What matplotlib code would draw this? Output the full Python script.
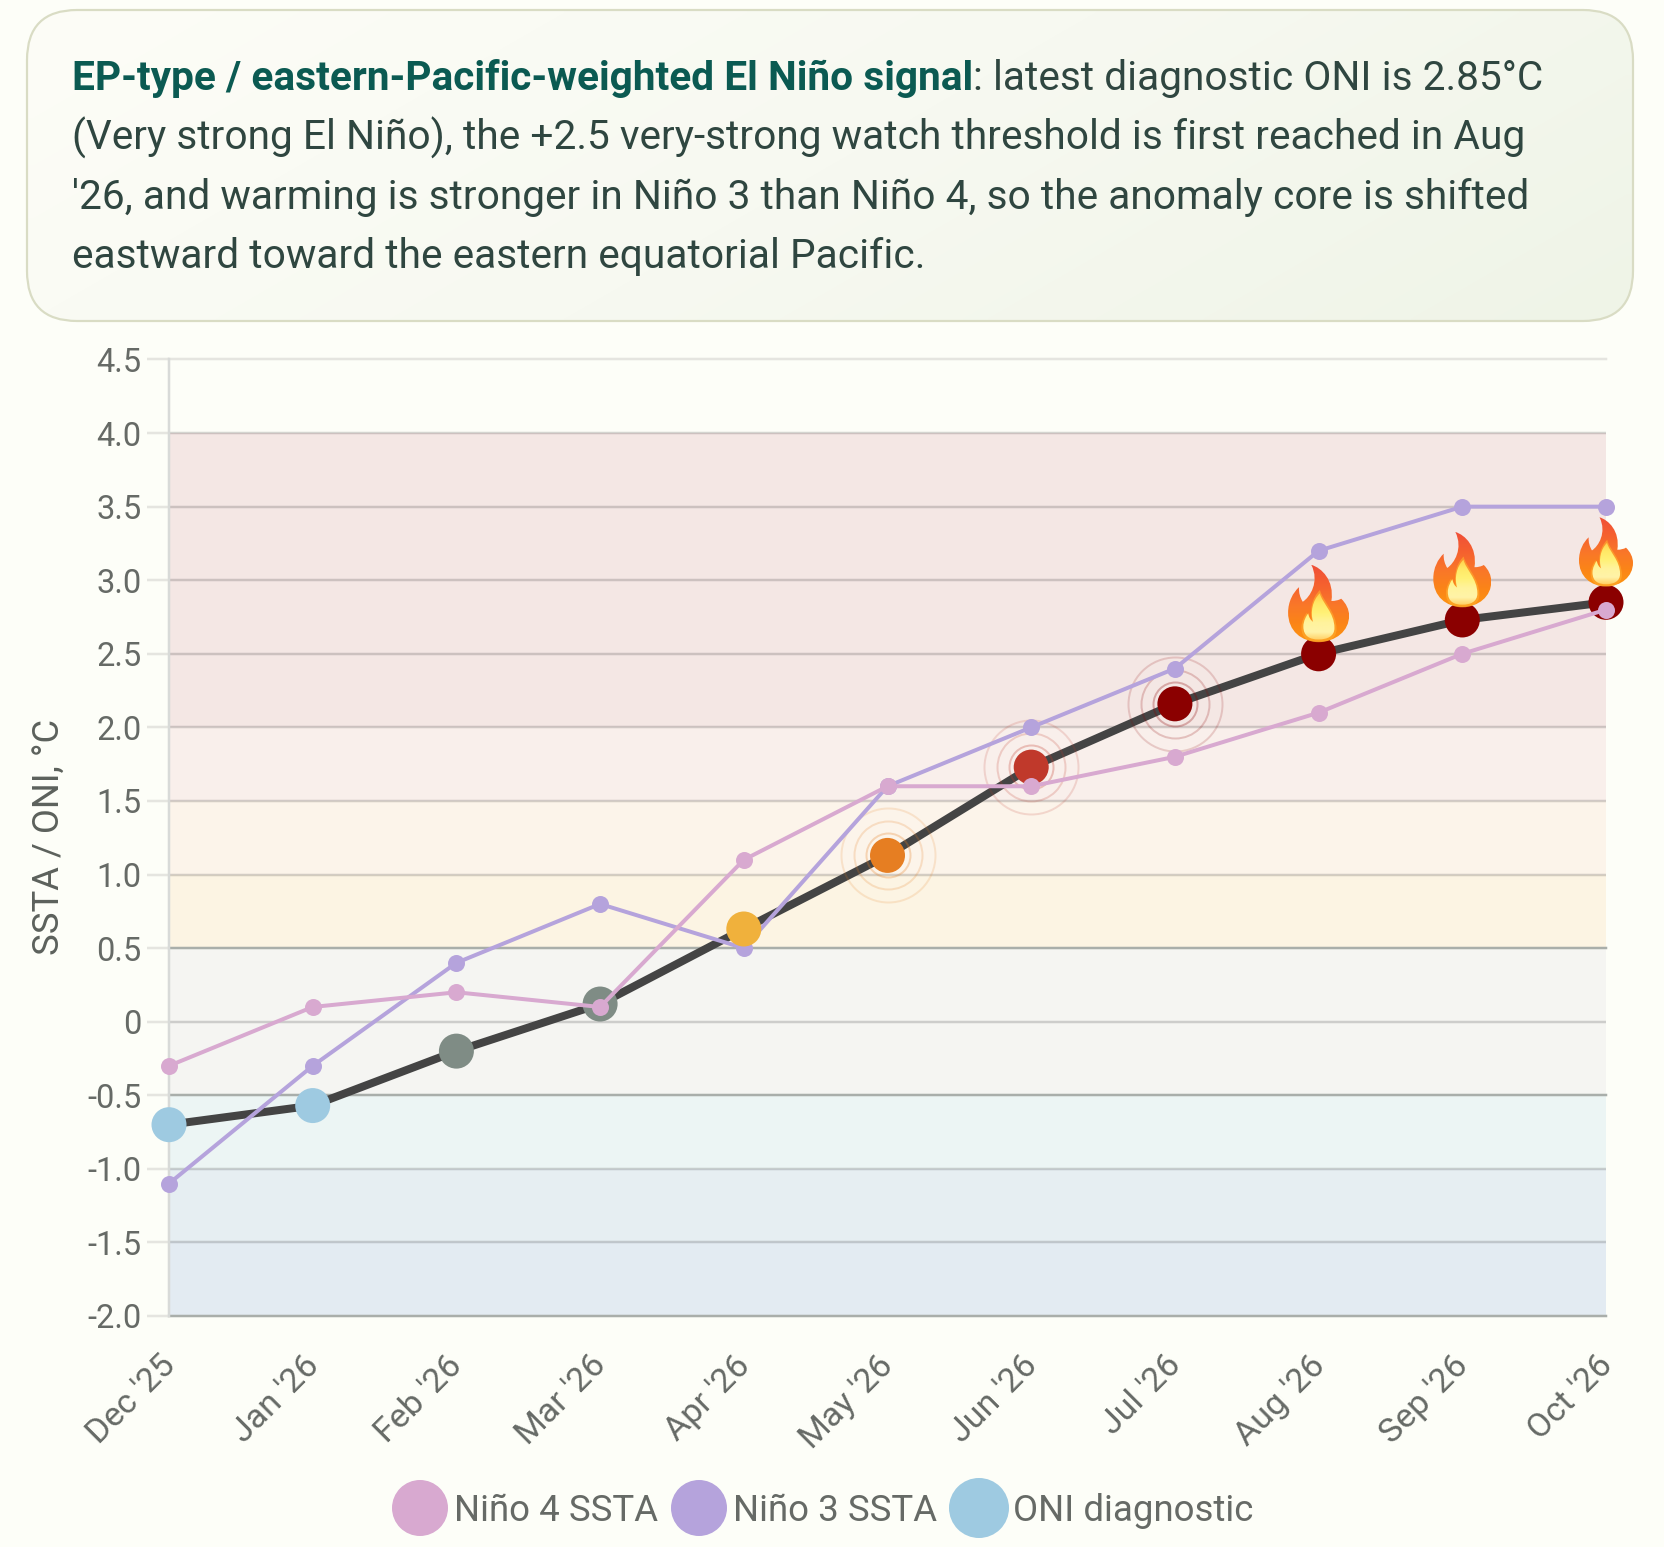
import matplotlib
matplotlib.use('Agg')
import matplotlib.pyplot as plt
import numpy as np
from matplotlib.colors import LinearSegmentedColormap
from matplotlib.patches import Circle, FancyBboxPatch, PathPatch
from matplotlib.path import Path
from matplotlib.transforms import ScaledTranslation

plt.rcParams['font.family'] = ['Roboto', 'DejaVu Sans']

W, H = 1664, 1547
BG = '#fdfef8'

months = ["Dec '25", "Jan '26", "Feb '26", "Mar '26", "Apr '26", "May '26",
          "Jun '26", "Jul '26", "Aug '26", "Sep '26", "Oct '26"]
nino4 = [-0.3, 0.1, 0.2, 0.1, 1.1, 1.6, 1.6, 1.8, 2.1, 2.5, 2.8]
nino3 = [-1.1, -0.3, 0.4, 0.8, 0.5, 1.6, 2.0, 2.4, 3.2, 3.5, 3.5]
oni = [-0.7, -0.57, -0.2, 0.12, 0.63, 1.13, 1.73, 2.16, 2.5, 2.73, 2.85]

y_ticks = [-2.0, -1.5, -1.0, -0.5, 0, 0.5, 1.0, 1.5, 2.0, 2.5, 3.0, 3.5, 4.0, 4.5]
y_labels = ['-2.0', '-1.5', '-1.0', '-0.5', '0', '0.5', '1.0', '1.5', '2.0',
            '2.5', '3.0', '3.5', '4.0', '4.5']

band_edges = [-2.0, -1.5, -1.0, -0.5, 0.5, 1.0, 1.5, 2.0, 4.0]
band_colors = ['#e3ebf2', '#e6eef2', '#ecf5f4', '#f5f5f2', '#fcf4e3', '#fcf4ea',
               '#f9efeb', '#f4e7e4']
heavy_lines = [-2.0, -0.5, 0.5]

ring_months = [5, 6, 7]
ring_radii = [22, 34, 47]
fire_months = [8, 9, 10]
fire_sizes = [(61, 77), (58, 75), (54, 69)]
fire_gaps = [12, 13, 16]

PINK = '#d8a9d0'
PURPLE = '#b5a3dc'
BLUE = '#9ecae1'


def oni_color(v):
    """Colour of an ONI dot by intensity class"""
    if v <= -0.5:
        return BLUE
    if v < 0.5:
        return '#7f8c85'
    if v < 1.0:
        return '#f0b13c'
    if v < 1.5:
        return '#e67e22'
    if v < 2.0:
        return '#c0392b'
    return '#8b0000'


def px(n):
    """Pixels to points at dpi 100"""
    return n * 0.72


def gradient_fill(ax, patch, extent, colors, horizontal=False):
    """Paint a vertical (or diagonal) gradient clipped to a patch"""
    cmap = LinearSegmentedColormap.from_list('g', colors)
    if horizontal:
        xx, yy = np.meshgrid(np.linspace(0, 1, 128), np.linspace(0, 1, 64))
        grad = (xx * 3 + yy) / 4
    else:
        grad = np.linspace(0, 1, 128)[:, None]
    im = ax.imshow(grad, cmap=cmap, extent=extent, aspect='auto', origin='upper',
                   interpolation='bilinear', zorder=patch.get_zorder())
    im.set_clip_path(patch)


def blob_path(cx, top, w, h, pts, grow=1.0):
    """Closed bezier outline from (x, y) points in unit flame coordinates"""
    verts = [(cx + p[0] * w * grow, top + (0.7 + (p[1] - 0.7) * grow) * h) for p in pts]
    codes = [Path.MOVETO] + [Path.CURVE4] * (len(pts) - 1)
    return Path(verts, codes)


OUTER = [(-0.12, 0.0),
         (0.05, 0.04), (0.26, 0.20), (0.21, 0.47),
         (0.27, 0.47), (0.33, 0.46), (0.37, 0.44),
         (0.45, 0.50), (0.50, 0.58), (0.50, 0.66),
         (0.50, 0.86), (0.28, 1.0), (0.0, 1.0),
         (-0.28, 1.0), (-0.50, 0.86), (-0.50, 0.62),
         (-0.50, 0.48), (-0.42, 0.36), (-0.32, 0.29),
         (-0.33, 0.36), (-0.30, 0.43), (-0.26, 0.48),
         (-0.14, 0.42), (0.02, 0.22), (-0.12, 0.0)]
INNER = [(0.02, 0.37),
         (0.06, 0.50), (0.26, 0.62), (0.26, 0.82),
         (0.26, 0.93), (0.14, 0.97), (0.0, 0.97),
         (-0.14, 0.97), (-0.25, 0.93), (-0.25, 0.80),
         (-0.25, 0.73), (-0.20, 0.66), (-0.17, 0.63),
         (-0.16, 0.68), (-0.13, 0.72), (-0.09, 0.74),
         (-0.14, 0.62), (-0.10, 0.46), (0.02, 0.37)]


def draw_flame(ax, cx, bottom, w, h):
    top = bottom - h
    outer = PathPatch(blob_path(cx, top, w, h, OUTER), fc='none', ec='none', zorder=6)
    ax.add_patch(outer)
    gradient_fill(ax, outer, (cx - w / 2, cx + w / 2, bottom, top),
                  ['#f04f38', '#f5602f', '#f9762a', '#fb8418', '#fd9410'])
    # soft glow between the outer and inner flame
    ax.add_patch(PathPatch(blob_path(cx, top, w, h, INNER, grow=1.13), fc='#ffab2e', ec='none',
                           alpha=0.65, zorder=6.5))
    inner = PathPatch(blob_path(cx, top, w, h, INNER), fc='none', ec='none', zorder=7)
    ax.add_patch(inner)
    gradient_fill(ax, inner, (cx - w / 2, cx + w / 2, bottom, top + h * 0.37),
                  ['#ffcf4a', '#ffe866', '#fff176', '#fff39c', '#fff3a8', '#ffc653'])


fig = plt.figure(figsize=(W / 100, H / 100), dpi=100, facecolor=BG)

# main chart
left, right, top, bottom = 169, 1606, 359.5, 1316
ax = fig.add_axes([left / W, 1 - bottom / H, (right - left) / W, (bottom - top) / H])
ax.set_facecolor(BG)
ax.set_xlim(0, len(months) - 1)
ax.set_ylim(-2, 4.5)

for i, c in enumerate(band_colors):
    ax.axhspan(band_edges[i], band_edges[i + 1], color=c, lw=0, zorder=0)

for v in y_ticks:
    if v in heavy_lines:
        ax.axhline(v, color='#a9aeaa', lw=px(2.5), zorder=1, clip_on=False)
    elif v == 4.5:
        ax.axhline(v, color='#e5e5e0', lw=px(2.5), zorder=1, clip_on=False)
    else:
        ax.axhline(v, color='black', alpha=0.16, lw=px(2.5), zorder=1)

x = np.arange(len(months))
ax.plot(x, oni, color='#444444', lw=px(8), solid_capstyle='round', zorder=3)
ax.plot(x, nino3, color=PURPLE, lw=px(4), zorder=4, marker='o', ms=px(17), mew=0, clip_on=False)
ax.plot(x, nino4, color=PINK, lw=px(4), zorder=5, marker='o', ms=px(17), mew=0, clip_on=False)

for i in ring_months:
    for r, a in zip(ring_radii, [0.28, 0.2, 0.16]):
        ax.plot(x[i], oni[i], marker='o', ms=px(2 * r), mfc='none', mec=oni_color(oni[i]),
                mew=px(2), alpha=a, zorder=3.5)

ax.scatter(x, oni, s=px(35) ** 2, c=[oni_color(v) for v in oni], lw=0, zorder=4.5, clip_on=False)

ax.set_xticks(x)
ax.set_xticklabels(months, rotation=45, ha='right', rotation_mode='anchor')
ax.set_yticks(y_ticks)
ax.set_yticklabels(y_labels)
ax.tick_params(axis='y', length=px(22), width=px(2.5), color='#e5e5e0', labelsize=23.5,
               labelcolor='#666a66', pad=4)
ax.tick_params(axis='x', length=0, labelsize=24.5, labelcolor='#666a66', pad=24)
for lab in ax.get_xticklabels():
    lab.set_transform(lab.get_transform() + ScaledTranslation(-10 / 100, 0, fig.dpi_scale_trans))
ax.set_ylabel('SSTA / ONI, °C', fontsize=26.2, color='#5c615c', va='center')
ax.yaxis.set_label_coords((50 - left) / (right - left), (bottom - 837) / (bottom - top))
for side in ['top', 'right', 'bottom']:
    ax.spines[side].set_visible(False)
ax.spines['left'].set_color('#d8dad8')
ax.spines['left'].set_linewidth(px(2.5))

# overlay in pixel coordinates: summary card, legend, flames
ov = fig.add_axes([0, 0, 1, 1], zorder=10)
ov.patch.set_alpha(0)
ov.axis('off')

card = FancyBboxPatch((27, 10), 1606, 311, boxstyle='round,pad=0,rounding_size=50',
                      fc='none', ec='none', zorder=1)
ov.add_patch(card)
gradient_fill(ov, card, (27, 1633, 321, 10), ['#fdfdf7', '#f7f9f1', '#eff4e7'], horizontal=True)
ov.add_patch(FancyBboxPatch((27, 10), 1606, 311, boxstyle='round,pad=0,rounding_size=50',
                            fc='none', ec='#d9dcc4', lw=px(2.2), zorder=2))

ov.set_xlim(0, W)
ov.set_ylim(H, 0)

TEXT_SIZE = 29.25
bold = ov.text(72, 90, 'EP-type / eastern-Pacific-weighted El Niño signal', fontsize=TEXT_SIZE,
               fontweight='bold', color='#0b5a52', va='baseline', zorder=3)
fig.canvas.draw()
bold_end = bold.get_window_extent().x1
ov.text(bold_end, 90, ': latest diagnostic ONI is 2.85°C', fontsize=TEXT_SIZE, color='#2f4640',
        va='baseline', zorder=3)
summary_lines = ["(Very strong El Niño), the +2.5 very-strong watch threshold is first reached in Aug",
                 "'26, and warming is stronger in Niño 3 than Niño 4, so the anomaly core is shifted",
                 "eastward toward the eastern equatorial Pacific."]
for base, line in zip([150, 209, 268], summary_lines):
    ov.text(72, base, line, fontsize=TEXT_SIZE, color='#2f4640', va='baseline', zorder=3)

legend_names = ['Niño 4 SSTA', 'Niño 3 SSTA', 'ONI diagnostic']
legend_colors = [PINK, PURPLE, BLUE]
legend_x = [420, 699, 979]
legend_r = [28, 28, 30]
legend_text_x = [454, 733, 1013]
for name, c, cx, r, tx in zip(legend_names, legend_colors, legend_x, legend_r, legend_text_x):
    ov.add_patch(Circle((cx, 1508), r, fc=c, ec='none'))
    ov.text(tx, 1507, name, fontsize=26.4, color='#666a66', va='center_baseline', ha='left')

# flames sit just above the strongest months
for i, (w, h), gap in zip(fire_months, fire_sizes, fire_gaps):
    dx, dy = ax.transData.transform((x[i], oni[i]))
    draw_flame(ov, dx, H - dy - gap, w, h)

ov.set_xlim(0, W)
ov.set_ylim(H, 0)

fig.savefig('out.png', dpi=100, facecolor=BG)
